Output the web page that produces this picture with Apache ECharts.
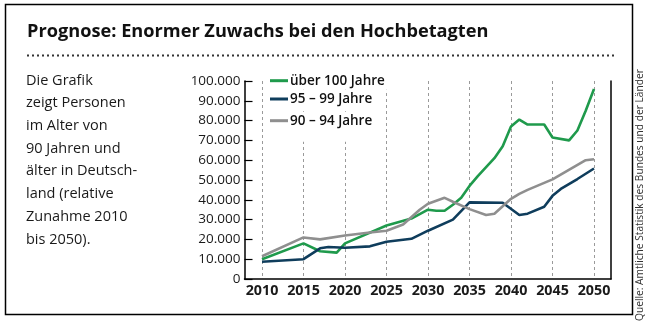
<!DOCTYPE html>
<html>
<head>
<meta charset="utf-8">
<script src="https://cdn.jsdelivr.net/npm/echarts@6/dist/echarts.min.js"></script>
<style>
  html, body { margin: 0; padding: 0; background: #fff; }
  #chart { width: 652px; height: 322px; }
</style>
</head>
<body>
<div id="chart"></div>
<script>
// Persons aged 90+ in Germany, projection 2010–2050
const over100Years  = [2010, 2015, 2017, 2019, 2020, 2025, 2028, 2030, 2031, 2032, 2033, 2034, 2035, 2036, 2038, 2039, 2040, 2041, 2042, 2044, 2045, 2047, 2048, 2049, 2050];
const over100Values = [10000, 18000, 14000, 13300, 18000, 27000, 30500, 35000, 34500, 34500, 37500, 41000, 47000, 52000, 61000, 67000, 77000, 80500, 78000, 78000, 71500, 70000, 75000, 85000, 96000];

const age95Years  = [2010, 2015, 2017, 2018, 2020, 2023, 2025, 2028, 2030, 2033, 2035, 2039, 2041, 2042, 2044, 2045, 2046, 2048, 2050];
const age95Values = [8700, 10000, 15500, 16200, 15800, 16500, 18800, 20300, 24400, 30000, 38700, 38500, 32300, 33000, 36500, 42000, 45500, 50500, 55800];

const age90Years  = [2010, 2015, 2017, 2020, 2023, 2025, 2027, 2029, 2030, 2032, 2033, 2035, 2037, 2038, 2040, 2041, 2042, 2045, 2049, 2050];
const age90Values = [11500, 21000, 20000, 22000, 23500, 24400, 27500, 35000, 38000, 41000, 39000, 35300, 32300, 33000, 40500, 43000, 45000, 50300, 60000, 60500];

const seriesNames  = ['über 100 Jahre', '95 – 99 Jahre', '90 – 94 Jahre'];
const seriesColors = ['#1f9a4c', '#0f3d5c', '#8f8f8f'];

const xMin = 2010, xMax = 2050, xStep = 5;
const yMax = 100000, yStep = 10000;

const titleText = 'Prognose: Enormer Zuwachs bei den Hochbetagten';
const introLines = ['Die Grafik', 'zeigt Personen', 'im Alter von', '90 Jahren und', 'älter in Deutsch-', 'land (relative', 'Zunahme 2010', 'bis 2050).'];
const sourceText = 'Quelle: Amtliche Statistik des Bundes und der Länder';

const FONT = '"Open Sans", "Noto Sans", sans-serif';

function pairs(xs, ys) { return xs.map((x, i) => [x, ys[i]]); }
function deNum(v) { return String(v).replace(/\B(?=(\d{3})+(?!\d))/g, '.'); }

const chart = echarts.init(document.getElementById('chart'), null, { renderer: 'canvas' });

const legendRows = [80.7, 99, 120.7];

const option = {
  backgroundColor: '#fff',
  animation: false,
  title: {
    text: titleText,
    left: 22, top: 18,
    textStyle: { fontFamily: FONT, fontWeight: 'bold', fontSize: 18.2, color: '#111' }
  },
  legend: seriesNames.map((n, i) => ({
    data: [n],
    left: 268,
    top: legendRows[i] - 9,
    itemWidth: 18, itemHeight: 3,
    icon: 'rect',
    padding: [2, 4, i === 2 ? 14 : 2, 2],
    backgroundColor: '#fff',
    textStyle: { fontFamily: FONT, fontWeight: 600, fontSize: 13.5, color: '#111', padding: [0, 0, 0, -3] },
    selectedMode: false
  })),
  grid: [
    // frame: axis lines and y labels
    { left: 244.5, right: 41, top: 81, bottom: 43 },
    // data area, 2010–2050
    { left: 262, right: 58, top: 81, bottom: 43 }
  ],
  xAxis: [
    { gridIndex: 0, type: 'value', min: 0, max: 1,
      axisLine: { show: true, lineStyle: { color: '#000', width: 1.5 } },
      axisTick: { show: false }, axisLabel: { show: false }, splitLine: { show: false } },
    { gridIndex: 1, type: 'value', min: xMin, max: xMax, interval: xStep,
      axisLine: { show: false }, axisTick: { show: false },
      axisLabel: { margin: 5, fontFamily: FONT, fontWeight: 'bold', fontSize: 14.3, color: '#1a1a1a',
        formatter: v => String(v) },
      splitLine: { show: true, lineStyle: { color: '#9a9a9a', width: 1, type: [3, 3] } } }
  ],
  yAxis: [
    { gridIndex: 0, type: 'value', min: 0, max: yMax, interval: yStep, position: 'left',
      axisLine: { show: true, lineStyle: { color: '#000', width: 1.5 } },
      axisTick: { show: true, inside: true, length: 8, lineStyle: { color: '#000', width: 1.2 } },
      axisLabel: { margin: 4, fontFamily: FONT, fontSize: 13.5, color: '#1a1a1a', formatter: deNum },
      splitLine: { show: false } },
    { gridIndex: 0, type: 'value', min: 0, max: yMax, position: 'right',
      axisLine: { show: true, lineStyle: { color: '#000', width: 1.5 } },
      axisTick: { show: false }, axisLabel: { show: false }, splitLine: { show: false } },
    { gridIndex: 1, type: 'value', min: 0, max: yMax, show: false }
  ],
  series: [
    [over100Years, over100Values],
    [age95Years, age95Values],
    [age90Years, age90Values]
  ].map((d, i) => ({
    name: seriesNames[i],
    type: 'line',
    xAxisIndex: 1, yAxisIndex: 2,
    data: pairs(d[0], d[1]),
    showSymbol: false,
    symbol: 'none',
    lineStyle: { color: seriesColors[i], width: 2.6 },
    itemStyle: { color: seriesColors[i] },
    z: 3
  })),
  graphic: [
    { type: 'rect', shape: { x: 5.5, y: 4.5, width: 627, height: 310 },
      style: { fill: null, stroke: '#000', lineWidth: 1.5 }, silent: true, z: -1 },
    { type: 'line', shape: { x1: 27, y1: 55.5, x2: 614, y2: 55.5 },
      style: { stroke: '#333', lineWidth: 2, lineDash: [2, 3] }, silent: true },
    ...introLines.map((t, i) => ({
      type: 'text', left: 26, top: 73 + i * 22.7,
      style: { text: t, fontFamily: FONT, fontSize: 14.5, fill: '#1a1a1a' }, silent: true
    })),
    { type: 'text', x: 640, y: 321, rotation: Math.PI / 2,
      style: { text: sourceText, fontFamily: FONT, fontSize: 10.2, fill: '#333',
        textAlign: 'left', textVerticalAlign: 'middle' }, silent: true }
  ]
};

chart.setOption(option);
</script>
</body>
</html>
